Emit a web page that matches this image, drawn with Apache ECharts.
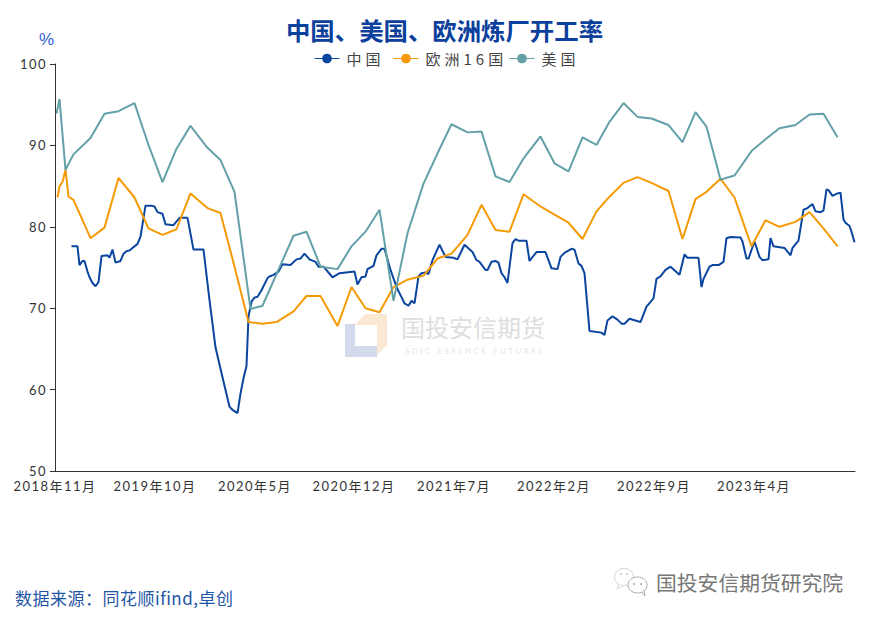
<!DOCTYPE html>
<html><head><meta charset="utf-8">
<style>html,body{margin:0;padding:0;background:#fff}#c{width:872px;height:622px}
text[style*="13.01px"]{letter-spacing:1.45px}
text[style*="15.01px"]{letter-spacing:4px}
text[style*="17.01px"]{letter-spacing:.5px}
text[style*="8.01px"]{letter-spacing:2.45px}
</style>
<script src="https://cdn.jsdelivr.net/npm/echarts@6/dist/echarts.min.js"></script>
</head><body><div id="c"></div>
<script>
const titleText = '中国、美国、欧洲炼厂开工率';
const sourceText = '数据来源：同花顺ifind,卓创';
const tickLabels = ['2018年11月','2019年10月','2020年5月','2020年12月','2021年7月','2022年2月','2022年9月','2023年4月'];
const tickPeriods = [2,102,202,301,401,501,601,701];
const periodCount = 800;
const yTicks = [50,60,70,80,90,100];

const chinaPeriods = [16,22,24,27,29,32,34,37,40,43,46,52,54,57,60,65,68,71,74,77,82,85,90,96,99,102,107,110,118,124,132,138,148,154,160,163,168,174,177,182,185,188,191,193,196,199,202,206,212,214,218,223,227,235,241,245,249,254,260,263,268,277,284,299,302,306,310,312,318,321,326,329,335,341,345,349,353,356,359,363,366,370,373,377,384,390,398,402,409,417,421,424,430,432,436,440,443,446,449,452,457,460,463,471,474,481,490,496,502,505,509,516,519,523,526,529,534,546,549,552,557,562,566,569,574,585,591,598,601,605,610,615,624,629,632,643,646,648,654,657,663,668,671,675,685,687,691,693,699,704,707,713,715,718,729,735,737,743,748,752,757,760,765,768,771,773,777,782,785,788,790,794,796,799];
const chinaValues = [77.6,77.6,75.3,75.8,75.8,74.5,73.8,73.1,72.7,73.2,76.4,76.5,76.2,77.2,75.6,75.8,76.7,77.0,77.1,77.4,77.9,78.8,82.6,82.6,82.5,81.8,81.6,80.3,80.2,81.1,81.1,77.2,77.2,71.0,65.2,63.6,61.0,57.9,57.5,57.1,59.5,61.4,62.9,69.0,70.8,71.3,71.4,72.2,73.7,73.9,74.1,74.5,75.4,75.3,76.0,76.1,76.7,76.0,75.7,75.1,75.1,73.8,74.3,74.5,72.9,73.8,73.9,74.8,75.2,76.5,77.3,77.3,74.7,72.6,71.6,70.6,70.3,70.9,70.6,73.9,74.3,74.4,74.2,75.9,77.8,76.3,76.2,76.0,77.8,76.9,75.9,75.7,74.7,74.7,75.7,75.8,75.6,74.3,73.8,73.1,78.0,78.5,78.3,78.3,75.8,76.9,76.9,74.9,74.8,76.3,76.8,77.3,77.2,75.5,75.2,74.3,67.2,67.0,66.7,68.5,69.0,68.6,68.1,68.1,68.7,68.3,70.2,71.2,73.6,73.9,74.7,75.1,74.1,76.6,76.2,76.2,72.6,73.6,75.1,75.3,75.3,75.7,78.6,78.75,78.7,78.2,76.1,76.1,78.2,76.3,75.9,76.0,78.6,77.6,77.4,76.5,77.4,78.3,82.1,82.3,82.8,81.9,81.8,82.0,84.6,84.5,83.8,84.1,84.2,80.9,80.5,80.1,79.4,78.1];

const europePeriods = [2,4,7,10,13,18,35,49,63,79,93,107,121,135,152,165,179,193,207,221,238,251,265,282,296,310,324,338,352,368,382,396,412,426,440,454,468,485,499,513,527,541,554,568,582,596,613,627,640,651,665,679,696,710,724,740,754,768,782];
const europeValues = [83.6,85.0,85.5,87.0,83.7,83.3,78.6,79.9,86.0,83.6,79.8,79.0,79.7,84.1,82.3,81.7,75.1,68.3,68.1,68.3,69.6,71.5,71.5,67.8,72.6,70.0,69.5,72.6,73.5,74.0,76.1,76.7,79.0,82.7,79.6,79.4,84.0,82.5,81.5,80.5,78.5,81.9,83.7,85.4,86.1,85.4,84.4,78.5,83.4,84.3,85.9,83.6,77.6,80.8,80.0,80.6,81.8,79.8,77.6];

const usPeriods = [1,4,10,18,35,49,63,79,93,107,121,135,152,165,179,195,207,238,251,265,282,296,310,324,338,352,368,385,396,412,426,440,454,468,485,499,513,527,541,554,568,582,596,613,627,640,651,665,679,696,710,724,740,754,768,782];
const usValues = [93.9,95.7,87.0,88.9,90.9,93.9,94.2,95.2,90.05,85.5,89.6,92.4,89.7,88.2,84.3,69.9,70.3,78.9,79.4,75.1,74.8,77.6,79.4,82.1,70.9,79.2,85.3,89.8,92.6,91.6,91.7,86.2,85.5,88.4,91.1,87.8,86.8,91.0,90.05,92.9,95.2,93.5,93.3,92.5,90.4,94.1,92.3,85.8,86.3,89.3,90.75,92.1,92.5,93.8,93.9,91.0];

const CJK = '"Noto Sans CJK SC","Noto Sans",sans-serif';
const categories = [];
for (let i = 0; i < periodCount; i++) {
  const k = tickPeriods.indexOf(i);
  categories.push(k >= 0 ? tickLabels[k] : '');
}
const isTick = (i) => tickPeriods.indexOf(i) >= 0;
const pairs = (xs, ys) => xs.map((x, i) => [x, ys[i]]);
const mk = (name, xs, ys, color) => ({
  name, type:'line', data:pairs(xs, ys), symbol:'circle', showSymbol:false, symbolSize:8,
  smooth:false, lineStyle:{width:2,color}, itemStyle:{color}, z:3, animation:false
});
const legendEntry = (name, left) => ({
  data:[name], top:46, left, padding:[5,0,5,0], itemWidth:25, itemHeight:12,
  lineStyle:{width:1},
  formatter:(n)=>'{a|' + n + '}',
  textStyle:{fontFamily:CJK,fontSize:15.01,color:'#444',
    rich:{a:{fontFamily:CJK,fontSize:15.01,color:'#444',padding:[0,0,0,2]}}}
});

const chart = echarts.init(document.getElementById('c'), null, {renderer:'svg'});
chart.setOption({
  animation:false,
  backgroundColor:'#fff',
  title:{text:titleText,left:439.5,top:12,textAlign:'center',
    textStyle:{fontFamily:CJK,fontSize:24.4,fontWeight:'bold',color:'#0b409c'}},
  legend:[legendEntry('中国',314),legendEntry('欧洲16国',393),legendEntry('美国',509)],
  grid:{left:55,top:64,width:800,height:407,containLabel:false},
  xAxis:{type:'category',data:categories,boundaryGap:true,
    axisLine:{lineStyle:{color:'#333',width:1}},
    axisTick:{alignWithLabel:true,interval:isTick,length:5,lineStyle:{color:'#333'}},
    axisLabel:{interval:isTick,margin:8,padding:[0,5,0,0],hideOverlap:false,fontFamily:'Lato,'+CJK,fontSize:13.01,color:'#333'},
    splitLine:{show:false}},
  yAxis:{type:'value',min:50,max:100,interval:10,
    axisLine:{show:true,lineStyle:{color:'#333',width:1}},
    axisTick:{show:true,length:5,lineStyle:{color:'#333'}},
    axisLabel:{margin:8,fontFamily:'Lato,'+CJK,fontSize:13.01,color:'#333'},
    splitLine:{show:false}},
  series:[
    mk('中国',chinaPeriods,chinaValues,'#0a459f'),
    mk('欧洲16国',europePeriods,europeValues,'#f59a05'),
    mk('美国',usPeriods,usValues,'#64a0a8')
  ],
  graphic:[
    {type:'polygon',silent:true,z:0,shape:{points:[[345,324],[355,324],[355,346],[377,346],[377,357],[345,357]]},style:{fill:'#d3daec'}},
    {type:'polygon',silent:true,z:0,shape:{points:[[355,325],[365,314],[387,314],[387,345],[377,355],[377,325]]},style:{fill:'#fbe8d3'}},
    {type:'text',silent:true,z:0,left:401,top:314,style:{text:'国投安信期货',fontFamily:CJK,fontSize:24,fill:'#dedede'}},
    {type:'text',silent:true,z:0,left:405,top:347,style:{text:'SDIC ESSENCE FUTURES',fontFamily:'Lato,sans-serif',fontSize:8.01,fill:'#e6e6e6'}},
    {type:'text',silent:true,z:5,left:39,top:31,style:{text:'%',fontFamily:'"Liberation Sans",sans-serif',fontSize:17,fill:'#2f5fd0'}},
    {type:'text',silent:true,z:5,left:15,top:589,style:{text:sourceText,fontFamily:CJK,fontSize:17.01,fill:'#1f55a5'}},
    {type:'text',silent:true,z:5,left:656,top:572,style:{text:'国投安信期货研究院',fontFamily:CJK,fontSize:20.8,fill:'#777'}},
    {type:'ellipse',silent:true,z:5,shape:{cx:624,cy:577,rx:9.5,ry:8.5},style:{fill:'#fff',stroke:'#d4d4d4',lineWidth:1}},
    {type:'polyline',silent:true,z:5,shape:{points:[[619,584],[617,589],[623,586]]},style:{fill:'#fff',stroke:'#d4d4d4',lineWidth:1}},
    {type:'ellipse',silent:true,z:5,shape:{cx:637.5,cy:585,rx:9.5,ry:8},style:{fill:'#fff',stroke:'#aaa',lineWidth:1}},
    {type:'polyline',silent:true,z:5,shape:{points:[[642,592],[645,596],[644,590]]},style:{fill:'#fff',stroke:'#aaa',lineWidth:1}},
    {type:'circle',silent:true,z:5,shape:{cx:634,cy:584,r:.9},style:{fill:'#999'}},
    {type:'circle',silent:true,z:5,shape:{cx:641,cy:584,r:.9},style:{fill:'#999'}},
    {type:'circle',silent:true,z:5,shape:{cx:621,cy:574,r:.9},style:{fill:'#bbb'}},
    {type:'circle',silent:true,z:5,shape:{cx:627,cy:574,r:.9},style:{fill:'#bbb'}}
  ]
});
</script></body></html>
